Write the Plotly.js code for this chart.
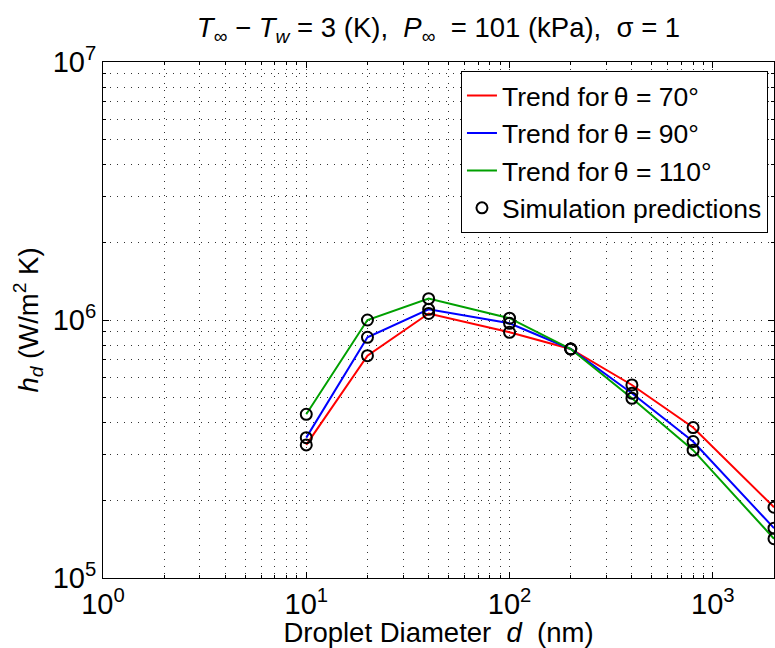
<!DOCTYPE html>
<html>
<head>
<meta charset="utf-8">
<script src="https://cdn.plot.ly/plotly-3.0.1.min.js"></script>
<style>html,body{margin:0;padding:0;background:#fff;}#chart{width:775px;height:648px;}</style>
</head>
<body>
<div id="chart"></div>
<script>
// Droplet diameters (nm)
var diameters = [10, 20, 40, 100, 200, 400, 800, 2000];
// Heat transfer coefficient h_d (W/m^2 K)
var h70  = [3.28e5, 7.27e5, 1.06e6, 8.96e5, 7.72e5, 5.60e5, 3.83e5, 1.88e5];
var h90  = [3.50e5, 8.57e5, 1.10e6, 9.71e5, 7.72e5, 5.20e5, 3.38e5, 1.56e5];
var h110 = [4.31e5, 1.00e6, 1.21e6, 1.016e6, 7.72e5, 4.97e5, 3.13e5, 1.42e5];

var seriesNames = ['Trend for\u2009\u03b8 = 70\u00b0', 'Trend for\u2009\u03b8 = 90\u00b0', 'Trend for\u2009\u03b8 = 110\u00b0'];
var markerName = 'Simulation predictions';

var xTickVals = [1, 10, 100, 1000];
var xTickText = ['10<sup>0</sup>', '10<sup>1</sup>', '10<sup>2</sup>', '10<sup>3</sup>'];
var xMinorVals = [2,3,4,5,6,7,8,9,20,30,40,50,60,70,80,90,200,300,400,500,600,700,800,900];
var yTickVals = [1e5, 1e6, 1e7];
var yTickText = ['10<sup>5</sup>', '10<sup>6</sup>', '10<sup>7</sup>'];
var yMinorVals = [2e5,3e5,4e5,5e5,6e5,7e5,8e5,9e5,2e6,3e6,4e6,5e6,6e6,7e6,8e6,9e6];

var colors = ['#ff0000', '#0000ff', '#00a000'];
var ys = [h70, h90, h110];
var FONT = 'Liberation Sans, Arial, Helvetica, sans-serif';

var traces = [];
for (var i = 0; i < 3; i++) {
  traces.push({
    x: diameters, y: ys[i], type: 'scatter', mode: 'lines', name: seriesNames[i],
    line: {color: colors[i], width: 2}
  });
}
for (var j = 0; j < 3; j++) {
  traces.push({
    x: diameters, y: ys[j], type: 'scatter', mode: 'markers', name: markerName,
    legendgroup: 'sim', showlegend: j === 0,
    marker: {symbol: 'circle-open', size: 11, color: '#000', line: {width: 2, color: '#000'}}
  });
}

var GRID_DASH = '1px,6px';
var minorCommon = {
  ticks: 'inside', ticklen: 3, tickcolor: '#000',
  showgrid: true, griddash: GRID_DASH, gridcolor: '#333', gridwidth: 1
};

var layout = {
  width: 775, height: 648,
  paper_bgcolor: '#fff', plot_bgcolor: '#fff',
  margin: {l: 103, r: 1, t: 62, b: 70},
  font: {family: FONT, size: 27, color: '#000'},
  title: {
    text: '<i>T</i><sub>\u221e</sub> \u2212 <i>T</i><sub><i>w</i></sub> = 3 (K),  <i>P</i><sub>\u221e</sub>  = 101 (kPa),  \u03c3 = 1',
    font: {family: FONT, size: 27.5, color: '#000'},
    x: 0.5, xref: 'paper', xanchor: 'center',
    y: 0.973, yref: 'container', yanchor: 'top'
  },
  xaxis: {
    type: 'log', range: [0, Math.log10(2000)],
    tickmode: 'array', tickvals: xTickVals, ticktext: xTickText,
    ticks: 'inside', ticklen: 6, tickcolor: '#000',
    showline: true, linecolor: '#000', linewidth: 1, mirror: 'ticks',
    showgrid: true, griddash: GRID_DASH, gridcolor: '#333', gridwidth: 1,
    zeroline: false,
    tickfont: {family: FONT, size: 29, color: '#000'},
    title: {text: 'Droplet Diameter  <i>d</i>  (nm)', font: {family: FONT, size: 27.5, color: '#000'}, standoff: 2},
    minor: Object.assign({tickmode: 'array', tickvals: xMinorVals}, minorCommon)
  },
  yaxis: {
    type: 'log', range: [5, 7],
    tickmode: 'array', tickvals: yTickVals, ticktext: yTickText,
    ticks: 'inside', ticklen: 6, tickcolor: '#000',
    showline: true, linecolor: '#000', linewidth: 1, mirror: 'ticks',
    showgrid: true, griddash: GRID_DASH, gridcolor: '#333', gridwidth: 1,
    zeroline: false,
    tickfont: {family: FONT, size: 29, color: '#000'},
    title: {text: '<i>h</i><sub><i>d</i></sub> (W/m<sup>2</sup> K)', font: {family: FONT, size: 27.5, color: '#000'}, standoff: 6},
    minor: Object.assign({tickmode: 'array', tickvals: yMinorVals}, minorCommon)
  },
  legend: {
    x: 0.991, xanchor: 'right', y: 0.983, yanchor: 'top',
    bgcolor: '#fff', bordercolor: '#000', borderwidth: 1,
    font: {family: FONT, size: 26.5, color: '#000'},
    tracegroupgap: 0
  },
  showlegend: true
};

Plotly.newPlot('chart', traces, layout, {displayModeBar: false, staticPlot: true});
</script>
</body>
</html>
